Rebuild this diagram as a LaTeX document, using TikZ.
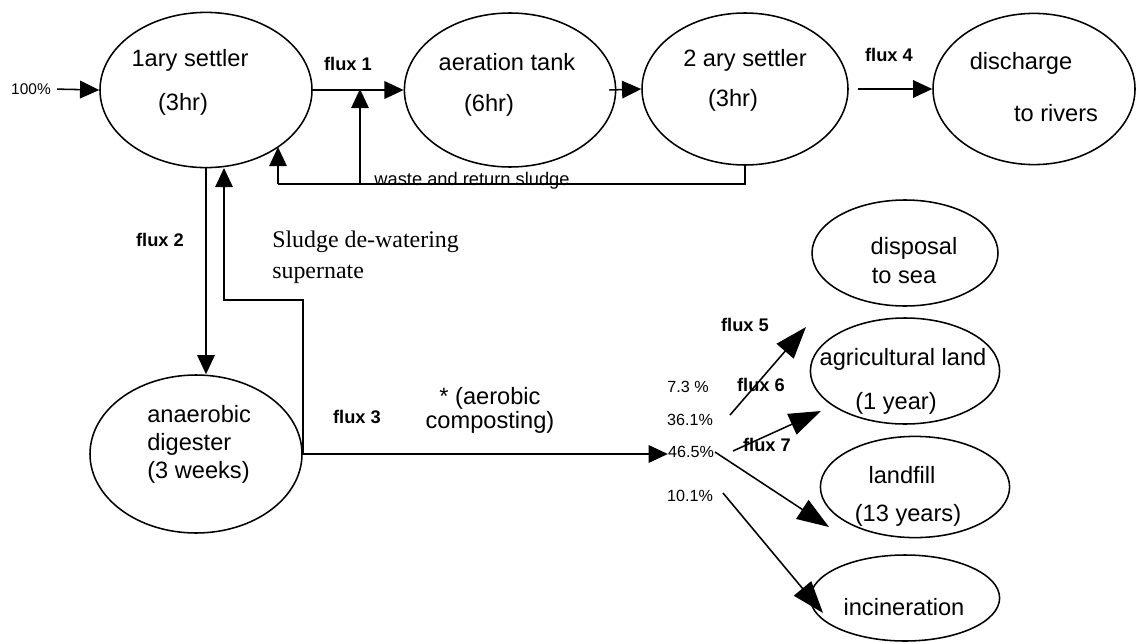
\documentclass[tikz,border=0pt]{standalone}
\usepackage{fontspec}
\setmainfont{Liberation Sans}
\newfontfamily\serifnote{Liberation Serif}
\usetikzlibrary{arrows.meta,shapes.geometric,calc}
\tikzset{
  >={Triangle[length=4.8mm,width=4.4mm]},
  tank/.style={ellipse,draw,line width=1.1pt,inner sep=0pt},
  flow/.style={->,line width=1.1pt},
  bigflow/.style={-{Triangle[length=8mm,width=5.6mm]},line width=1.1pt},
  pipe/.style={line width=1.1pt},
  lbl/.style={font=\fontsize{16.8}{20}\selectfont,inner sep=0pt},
  fluxlbl/.style={font=\fontsize{13}{15}\selectfont\bfseries,inner sep=0pt},
  pct/.style={font=\fontsize{11.5}{13}\selectfont,inner sep=0pt},
}

\begin{document}
\begin{tikzpicture}[x=0.25mm,y=-0.25mm]
  \useasboundingbox (0,0) rectangle (1136,642);
  % treatment line
  \node[tank,minimum width=53mm,minimum height=38.8mm] (pri) at (206,90) {};
  \node[tank,minimum width=52.8mm,minimum height=38.5mm] (aer) at (510,90) {};
  \node[tank,minimum width=51.5mm,minimum height=38mm] (sec) at (745,89) {};
  \node[tank,minimum width=50.5mm,minimum height=37.8mm] (dis) at (1034,89) {};
  \node[tank,minimum width=53mm,minimum height=39.5mm] (dig) at (196,454) {};
  % end points of the sludge
  \node[tank,minimum width=46.5mm,minimum height=26.5mm] (sea) at (905,253) {};
  \node[tank,minimum width=47.3mm,minimum height=26.5mm] (agr) at (905,371) {};
  \node[tank,minimum width=47.3mm,minimum height=25.3mm] (lfl) at (915,487) {};
  \node[tank,minimum width=47.3mm,minimum height=21.5mm] (inc) at (905,598) {};

  \node[lbl] (pri1) at (190,60) {1ary settler};
  \node[lbl] (pri2) at (183,104) {(3hr)};
  \node[lbl] (aer1) at (507,62) {aeration tank};
  \node[lbl] (aer2) at (489,105) {(6hr)};
  \node[lbl] (sec1) at (745,60) {2 ary settler};
  \node[lbl] (sec2) at (733,100) {(3hr)};
  \node[lbl] (dis1) at (1021,63) {discharge};
  \node[lbl] (dis2) at (1056,113) {to rivers};
  \node[lbl,align=left,anchor=west] (dig1) at (147,444) {anaerobic\\[0pt]digester\\[0pt](3 weeks)};
  \node[lbl] (sea1) at (914,248) {disposal};
  \node[lbl] (sea2) at (904,276) {to sea};
  \node[lbl] (agr1) at (903,359) {agricultural land};
  \node[lbl] (agr2) at (896,403) {(1 year)};
  \node[lbl] (lfl1) at (902,475) {landfill};
  \node[lbl] (lfl2) at (908,515) {(13 years)};
  \node[lbl] (inc1) at (904,607) {incineration};
  \node[lbl,align=center] (aerob) at (490,410) {* (aerobic\\[-3pt]composting)};
  \node[font=\serifnote\fontsize{17}{20}\selectfont,align=left,inner sep=0pt,anchor=west] (dewat) at (272,257) {Sludge de-watering\\[2pt]supernate};

  \node[fluxlbl] (fx1) at (348,64) {flux 1};
  \node[fluxlbl] (fx2) at (160,240) {flux 2};
  \node[fluxlbl] (fx3) at (357,417) {flux 3};
  \node[fluxlbl] (fx4) at (889,55) {flux 4};
  \node[fluxlbl] (fx5) at (745,325) {flux 5};
  \node[fluxlbl] (fx6) at (761,385) {flux 6};
  \node[fluxlbl] (fx7) at (767,445) {flux 7};

  \node[font=\fontsize{11}{13}\selectfont,inner sep=0pt] (in) at (31,89) {100\%};
  \node[pct] (p73) at (688,387) {7.3 \%};
  \node[pct] (p361) at (690,420) {36.1\%};
  \node[pct] (p465) at (691,452) {46.5\%};
  \node[pct] (p101) at (690,496) {10.1\%};
  \node[font=\fontsize{13}{15}\selectfont,inner sep=0pt] (retlbl) at (472,181) {waste and return sludge};

  \coordinate (junc) at (360,89);
  \coordinate (junc0) at (360,184);
  \coordinate (retc) at (278,184);
  \coordinate (rettip) at (278,147);
  \coordinate (bend) at (224,300);
  \coordinate (suptip) at (224,168);
  \coordinate (f5a) at (730,415);
  \coordinate (f5b) at (806,327);
  \coordinate (f7a) at (733,451);
  \coordinate (f7b) at (821,411);
  \coordinate (lfa) at (715,452);
  \coordinate (lfb) at (829,527);
  \coordinate (ina) at (723,493);
  \coordinate (inb) at (823,613);

  \draw[flow,shorten <=1.5mm] (in.east) -- (pri.west);
  \draw[flow] (pri.east) -- (aer.west);
  \draw[flow] (aer.east) ++(-7,0) -- (sec.west);
  \draw[flow,shorten <=2.2mm] (sec.east) -- (dis.west);
  \draw[pipe] (sec.south) |- (retc);
  \draw[flow] (retc) -- (rettip);
  \draw[flow] (junc0) -- (junc);
  \draw[flow] (pri.south) -- (pri.south |- dig.north);
  \draw[flow] (dig.east) |- (bend) -- (suptip);
  \draw[flow] (dig.east) -- (dig.east -| p465.west);
  \draw[bigflow] (f5a) -- (f5b);
  \draw[bigflow] (f7a) -- (f7b);
  \draw[bigflow] (lfa) -- (lfb);
  \draw[bigflow] (ina) -- (inb);
\end{tikzpicture}
\end{document}
